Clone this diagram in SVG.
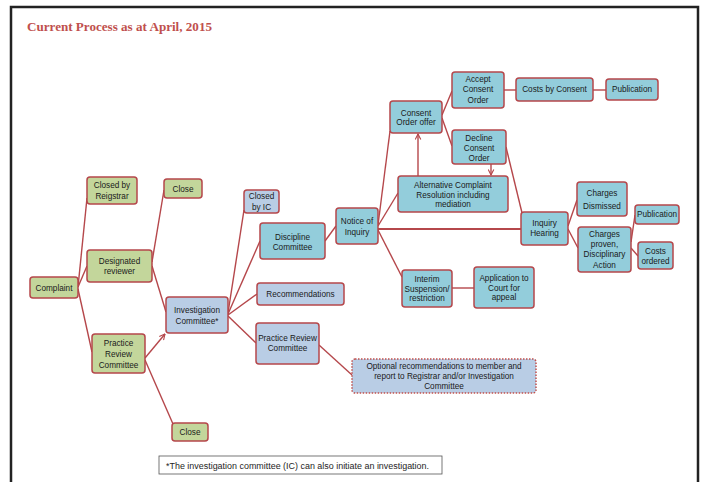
<svg xmlns="http://www.w3.org/2000/svg" width="704" height="482" viewBox="0 0 704 482">
<style>
.n{stroke:#b5474b;stroke-width:1.5}
.g{fill:#c3d69b}
.b{fill:#b9cde5}
.t{fill:#93cddb}
.l{font-family:"Liberation Sans",Arial,sans-serif;font-size:8.2px;fill:#1a1a1a;text-anchor:middle}
.c line,.c path{stroke:#b5474b;stroke-width:1.4;fill:none}
</style>
<defs>
<marker id="ah" viewBox="0 0 10 10" refX="9" refY="5" markerWidth="7" markerHeight="7" orient="auto" markerUnits="userSpaceOnUse">
<path d="M1,1 L9,5 L1,9" fill="none" stroke="#b5474b" stroke-width="1.6"/>
</marker>
</defs>
<rect width="704" height="482" fill="#fff"/>
<path d="M11,484 V7 H698 V484" fill="none" stroke="#222" stroke-width="2.5"/>
<text x="27" y="31" font-family="Liberation Serif,serif" font-weight="bold" font-size="13" fill="#c0504d" textLength="185" lengthAdjust="spacingAndGlyphs">Current Process as at April, 2015</text>

<g class="c">
<line x1="78" y1="287" x2="87" y2="198"/>
<line x1="78" y1="287" x2="87" y2="266"/>
<line x1="78" y1="289" x2="92" y2="352"/>
<line x1="152" y1="262" x2="164" y2="190"/>
<line x1="152" y1="266" x2="166" y2="312"/>
<line x1="145" y1="358" x2="165" y2="334" marker-end="url(#ah)"/>
<line x1="145" y1="360" x2="173" y2="424"/>
<line x1="228" y1="313" x2="244" y2="210"/>
<line x1="228" y1="314" x2="260" y2="241"/>
<line x1="228" y1="315" x2="257" y2="294"/>
<line x1="228" y1="316" x2="256" y2="343"/>
<line x1="325" y1="241" x2="336" y2="226"/>
<line x1="378" y1="225" x2="390" y2="131"/>
<line x1="378" y1="226" x2="398" y2="193"/>
<line x1="378" y1="229" x2="521" y2="229" style="stroke-width:2"/>
<line x1="378" y1="230" x2="402" y2="277"/>
<line x1="452" y1="288" x2="474" y2="288"/>
<line x1="442" y1="115" x2="452" y2="91"/>
<line x1="442" y1="118" x2="452" y2="146"/>
<line x1="504" y1="90" x2="516" y2="90"/>
<line x1="593" y1="90" x2="606" y2="90"/>
<line x1="418" y1="176" x2="418" y2="134" marker-end="url(#ah)"/>
<line x1="491" y1="164" x2="491" y2="175" marker-end="url(#ah)"/>
<line x1="506" y1="147" x2="523" y2="217"/>
<line x1="568" y1="226" x2="577" y2="200"/>
<line x1="568" y1="229" x2="578" y2="248"/>
<line x1="631" y1="242" x2="635" y2="215"/>
<line x1="631" y1="248" x2="638" y2="256"/>
<line x1="319" y1="345" x2="352" y2="375"/>
</g>

<g id="complaint"><rect class="n g" x="30" y="277" width="48" height="21" rx="3"/><text class="l" x="54" y="291">Complaint</text></g>
<g id="closed-registrar"><rect class="n g" x="87" y="177" width="50" height="27" rx="3"/><text class="l" x="112" y="188">Closed by</text><text class="l" x="112" y="199">Reigstrar</text></g>
<g id="designated"><rect class="n g" x="87" y="250" width="65" height="32" rx="3"/><text class="l" x="119.5" y="264">Designated</text><text class="l" x="119.5" y="274">reviewer</text></g>
<g id="prc-green"><rect class="n g" x="92" y="334" width="53" height="39" rx="3"/><text class="l" x="118.5" y="346">Practice</text><text class="l" x="118.5" y="357">Review</text><text class="l" x="118.5" y="368">Committee</text></g>
<g id="close-top"><rect class="n g" x="164" y="179" width="38" height="19" rx="3"/><text class="l" x="183" y="191.5">Close</text></g>
<g id="close-bottom"><rect class="n g" x="172" y="423" width="36" height="18" rx="3"/><text class="l" x="190" y="435">Close</text></g>
<g id="ic"><rect class="n b" x="166" y="297" width="62" height="36" rx="3"/><text class="l" x="197" y="313">Investigation</text><text class="l" x="197" y="323.5">Committee*</text></g>
<g id="closed-ic"><rect class="n b" x="244" y="190" width="35" height="23" rx="3"/><text class="l" x="261.5" y="199">Closed</text><text class="l" x="261.5" y="210">by IC</text></g>
<g id="discipline"><rect class="n t" x="260" y="223" width="65" height="36" rx="3"/><text class="l" x="292.5" y="239.5">Discipline</text><text class="l" x="292.5" y="249.5">Committee</text></g>
<g id="recommendations"><rect class="n b" x="257" y="283" width="87" height="22" rx="3"/><text class="l" x="300.5" y="297">Recommendations</text></g>
<g id="prc-blue"><rect class="n b" x="256" y="323" width="63" height="41" rx="3"/><text class="l" x="287.5" y="341">Practice Review</text><text class="l" x="287.5" y="351">Committee</text></g>
<g id="optional"><rect x="352" y="359" width="184" height="34" rx="3" fill="#b9cde5" stroke="#c0504d" stroke-width="1.5" stroke-dasharray="1.5,1.5"/><text class="l" x="444" y="369">Optional recommendations to member and</text><text class="l" x="444" y="379">report to Registrar and/or Investigation</text><text class="l" x="444" y="389">Committee</text></g>
<g id="notice"><rect class="n t" x="336" y="208" width="42" height="36" rx="3"/><text class="l" x="357" y="224">Notice of</text><text class="l" x="357" y="234.5">Inquiry</text></g>
<g id="acr"><rect class="n t" x="398" y="176" width="110" height="36" rx="3"/><text class="l" x="453" y="187.5">Alternative Complaint</text><text class="l" x="453" y="197.5">Resolution including</text><text class="l" x="453" y="206.5">mediation</text></g>
<g id="interim"><rect class="n t" x="402" y="270" width="50" height="37" rx="3"/><text class="l" x="427" y="281.5">Interim</text><text class="l" x="427" y="291.5">Suspension/</text><text class="l" x="427" y="300.5">restriction</text></g>
<g id="application"><rect class="n t" x="474" y="267" width="60" height="41" rx="3"/><text class="l" x="504" y="280.5">Application to</text><text class="l" x="504" y="290.5">Court for</text><text class="l" x="504" y="300">appeal</text></g>
<g id="hearing"><rect class="n t" x="521" y="212" width="47" height="33" rx="3"/><text class="l" x="544.5" y="226">Inquiry</text><text class="l" x="544.5" y="236">Hearing</text></g>
<g id="dismissed"><rect class="n t" x="577" y="182" width="50" height="34" rx="3"/><text class="l" x="602" y="195.5">Charges</text><text class="l" x="602" y="209">Dismissed</text></g>
<g id="proven"><rect class="n t" x="578" y="227" width="53" height="45" rx="3"/><text class="l" x="604.5" y="237">Charges</text><text class="l" x="604.5" y="247">proven,</text><text class="l" x="604.5" y="257">Disciplinary</text><text class="l" x="604.5" y="268">Action</text></g>
<g id="publication-right"><rect class="n t" x="635" y="205" width="44" height="19" rx="3"/><text class="l" x="657" y="217">Publication</text></g>
<g id="costs-ordered"><rect class="n t" x="638" y="242" width="35" height="27" rx="3"/><text class="l" x="655.5" y="254">Costs</text><text class="l" x="655.5" y="264">ordered</text></g>
<g id="consent-offer"><rect class="n t" x="390" y="101" width="52" height="32" rx="3"/><text class="l" x="416" y="115.5">Consent</text><text class="l" x="416" y="125">Order offer</text></g>
<g id="accept"><rect class="n t" x="452" y="72" width="52" height="36" rx="3"/><text class="l" x="478" y="82">Accept</text><text class="l" x="478" y="92">Consent</text><text class="l" x="478" y="103">Order</text></g>
<g id="costs-consent"><rect class="n t" x="516" y="78" width="77" height="23" rx="3"/><text class="l" x="554.5" y="92">Costs by Consent</text></g>
<g id="publication-top"><rect class="n t" x="606" y="79" width="52" height="21" rx="3"/><text class="l" x="632" y="92">Publication</text></g>
<g id="decline"><rect class="n t" x="452" y="130" width="54" height="34" rx="3"/><text class="l" x="479" y="140.5">Decline</text><text class="l" x="479" y="150.5">Consent</text><text class="l" x="479" y="160.5">Order</text></g>
<g id="footnote"><rect x="159" y="456" width="283" height="18" fill="#fff" stroke="#555" stroke-width="0.8"/><text x="166" y="469" font-family="Liberation Sans,Arial,sans-serif" font-size="8.5" fill="#1e1e1e" textLength="263" lengthAdjust="spacingAndGlyphs">*The investigation committee (IC) can also initiate an investigation.</text></g>
</svg>
